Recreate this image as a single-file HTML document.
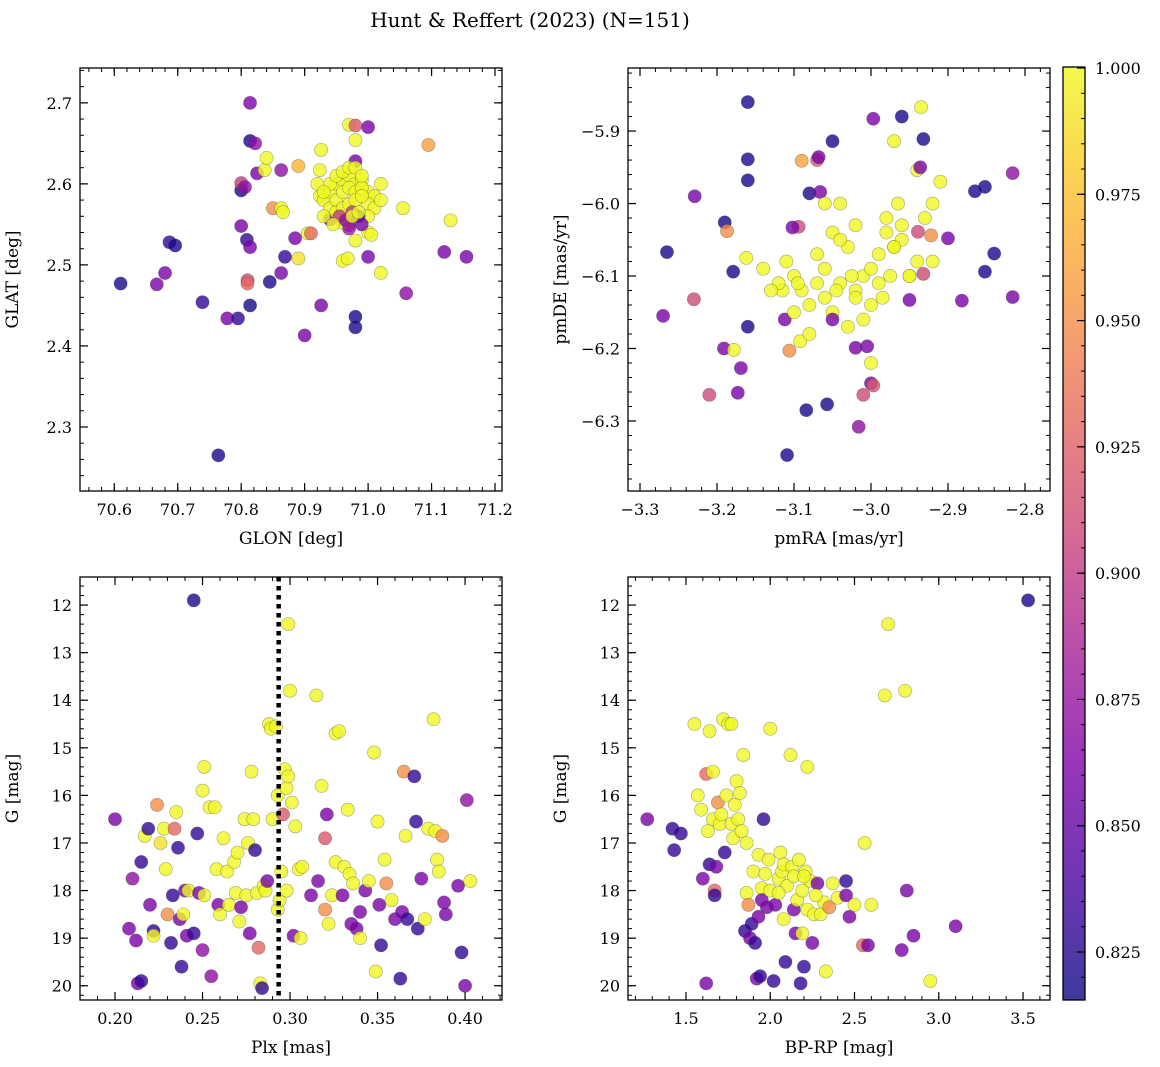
<!DOCTYPE html>
<html><head><meta charset="utf-8">
<style>
html,body{margin:0;padding:0;background:#fff;}
svg{display:block;font-family:"DejaVu Serif","Liberation Serif",serif;}
</style></head>
<body>
<svg id="fig" width="1160" height="1067" viewBox="0 0 1160 1067" xmlns="http://www.w3.org/2000/svg">
<text x="530" y="27" text-anchor="middle" font-size="20">Hunt &amp; Reffert (2023) (N=151)</text>
</svg>
<script>
// ---- Panel 1: GLON / GLAT ----
const p1_glon = [70.61,70.667,70.68,70.687,70.696,70.739,70.764,70.778,70.795,70.814,70.814,70.822,70.80,70.80,70.806,70.825,70.80,70.809,70.814,70.81,70.81,70.814,70.845,70.85,70.837,70.84,70.863,70.863,70.866,70.863,70.869,70.89,70.885,70.89,70.905,70.91,70.90,70.924,70.926,70.924,70.926,70.97,70.98,70.98,70.98,71.0,71.095,71.13,71.12,71.155,71.06,71.055,71.02,71.0,71.005,71.0,70.98,70.98,70.98,70.96,70.968,70.97,70.96,70.94,
70.93,70.94,70.95,70.96,70.97,70.98,70.99,71.0,71.01,70.94,70.95,70.96,70.97,70.98,70.99,71.0,71.01,70.93,70.95,70.96,70.97,70.98,70.99,71.0,70.94,70.95,70.96,70.97,70.98,70.99,70.955,70.965,70.975,70.985,70.945,71.02,71.02,70.92,70.93,70.97,70.99,70.975,70.985];
const p1_glat = [2.477,2.476,2.49,2.528,2.524,2.454,2.265,2.434,2.434,2.70,2.653,2.65,2.592,2.601,2.596,2.613,2.548,2.531,2.522,2.481,2.477,2.45,2.479,2.57,2.617,2.632,2.617,2.570,2.565,2.49,2.51,2.508,2.533,2.622,2.539,2.539,2.413,2.617,2.642,2.585,2.45,2.673,2.672,2.654,2.628,2.67,2.648,2.555,2.516,2.51,2.465,2.57,2.49,2.54,2.537,2.51,2.436,2.423,2.53,2.505,2.508,2.549,2.552,2.556,
2.58,2.59,2.6,2.605,2.61,2.6,2.605,2.59,2.585,2.57,2.58,2.59,2.595,2.59,2.595,2.575,2.57,2.56,2.565,2.57,2.575,2.58,2.585,2.56,2.6,2.61,2.615,2.62,2.62,2.61,2.56,2.555,2.565,2.56,2.55,2.6,2.58,2.6,2.59,2.545,2.55,2.56,2.565];
const p1_prob = [0.82,0.86,0.86,0.83,0.82,0.83,0.82,0.86,0.83,0.86,0.82,0.87,0.82,0.9,0.87,0.86,0.86,0.83,0.86,0.91,0.93,0.82,0.82,0.95,1,1,0.87,1,1,0.86,0.83,0.99,0.86,0.97,1,0.93,0.86,1,1,1,0.86,1,0.92,1,0.86,0.86,0.96,1,0.86,0.86,0.87,1,1,1,1,0.86,0.82,0.82,1,1,1,0.86,1,0.86,
1,1,1,1,1,1,1,1,1,1,1,1,1,1,1,1,1,1,1,1,1,1,1,1,1,1,1,1,1,1,0.9,0.87,0.9,0.83,1,1,1,1,1,0.88,0.86,1,1];

// ---- Panel 2: pmRA / pmDE ----
const p2_pmra = [-3.16,-3.16,-3.16,-3.19,-3.179,-3.16,-3.169,-3.173,-3.191,-3.178,-3.21,-3.23,-3.265,-3.27,-3.229,-3.187,-3.162,-3.09,-3.07,-3.068,-3.08,-3.066,-3.05,-2.997,-2.96,-2.935,-2.932,-2.97,-2.94,-2.936,-2.816,-2.865,-2.852,-2.84,-2.852,-2.816,-2.882,-2.90,-2.922,-2.939,-2.932,-2.95,-3.0,-3.016,-3.01,-3.02,-3.005,-2.997,-3.057,-3.084,-3.109,-3.106,-3.092,-3.112,-3.094,-3.102,-3.115,
-3.12,-3.11,-3.1,-3.09,-3.08,-3.07,-3.06,-3.05,-3.04,-3.03,-3.02,-3.01,-3.0,-2.99,-2.98,-2.97,-2.96,-2.95,-2.94,-2.93,-2.92,-2.91,-3.1,-3.08,-3.06,-3.04,-3.02,-3.0,-2.98,-2.96,-2.95,-3.13,-3.05,-3.03,-3.01,-2.99,-2.97,-3.07,-3.045,-3.025,-2.985,-3.095,-3.06,-3.04,-3.0,-2.975,-2.965,-3.14,-2.92,-3.05,-3.02];
const p2_pmde = [-5.86,-5.939,-5.968,-6.026,-6.094,-6.17,-6.227,-6.261,-6.2,-6.202,-6.264,-6.132,-6.067,-6.155,-5.99,-6.038,-6.075,-5.941,-5.94,-5.936,-5.986,-5.984,-5.914,-5.883,-5.88,-5.867,-5.911,-5.914,-5.954,-5.95,-5.958,-5.983,-5.977,-6.069,-6.094,-6.129,-6.134,-6.048,-6.044,-6.039,-6.097,-6.133,-6.248,-6.308,-6.264,-6.199,-6.197,-6.251,-6.277,-6.285,-6.347,-6.203,-6.19,-6.16,-6.032,-6.033,-6.12,
-6.11,-6.08,-6.1,-6.12,-6.14,-6.07,-6.13,-6.15,-6.11,-6.06,-6.12,-6.1,-6.09,-6.07,-6.04,-6.06,-6.03,-6.1,-6.08,-6.02,-6.0,-5.97,-6.15,-6.18,-6.09,-6.0,-6.03,-6.14,-6.02,-6.05,-6.1,-6.12,-6.04,-6.17,-6.16,-6.11,-6.06,-6.11,-6.12,-6.1,-6.13,-6.11,-6.0,-6.05,-6.22,-6.1,-6.0,-6.09,-6.08,-6.16,-6.13];
const p2_prob = [0.82,0.82,0.82,0.82,0.82,0.82,0.86,0.86,0.86,1,0.91,0.91,0.82,0.86,0.86,0.95,1,0.96,0.92,0.86,0.82,0.86,0.82,0.86,0.82,1,0.82,1,1,0.86,0.87,0.82,0.82,0.82,0.82,0.86,0.86,0.86,0.95,0.91,0.91,0.86,0.86,0.87,0.91,0.86,0.86,0.92,0.82,0.82,0.82,0.95,1,0.86,0.91,0.86,1,
1,1,1,1,1,1,1,1,1,1,1,1,1,1,1,1,1,1,1,1,1,1,1,1,1,1,1,1,1,1,1,1,1,1,1,1,1,1,1,1,1,1,1,1,1,1,1,1,1,0.86,1];

// ---- Panel 3: Plx / G ----
const p3_plx = [0.200,0.245,0.210,0.212,0.208,0.213,0.215,0.215,0.217,0.219,0.220,0.222,0.222,0.224,0.226,0.228,0.229,0.230,0.232,0.233,0.234,0.235,0.236,0.237,0.238,0.239,0.240,0.241,0.242,0.245,0.247,0.248,0.250,0.251,0.250,0.251,0.254,0.255,0.257,0.258,0.259,0.260,0.262,0.264,0.265,0.268,0.270,0.269,0.272,0.271,0.274,0.275,0.276,0.277,0.278,0.279,0.280,0.281,0.282,0.283,0.284,0.285,0.286,0.287,0.288,0.289,0.290,0.292,0.293,0.293,0.294,0.295,0.296,0.297,0.298,0.298,0.299,0.299,0.300,0.301,0.302,0.303,0.305,0.306,0.307,0.312,0.315,0.316,0.318,0.320,0.320,0.321,0.322,0.324,0.326,0.328,0.326,0.330,0.331,0.333,0.334,0.336,0.335,0.338,0.340,0.340,0.343,0.345,0.348,0.349,0.350,0.351,0.352,0.354,0.355,0.358,0.360,0.363,0.364,0.365,0.366,0.367,0.371,0.372,0.373,0.375,0.377,0.379,0.382,0.383,0.384,0.385,0.387,0.388,0.389,0.396,0.398,0.400,0.401,0.403];
const p3_g = [16.5,11.9,17.75,19.05,18.8,19.95,19.9,17.4,16.85,16.7,18.3,18.85,18.95,16.2,17.0,16.7,17.55,18.5,19.1,18.1,16.7,16.35,17.1,18.6,19.6,18.5,18.0,18.95,18.0,18.9,16.8,18.05,15.9,15.4,19.25,18.1,16.25,19.8,16.25,17.55,18.3,18.5,16.9,17.6,18.3,17.4,17.2,18.05,18.35,18.65,16.5,18.1,17.0,18.9,15.5,16.5,17.15,18.05,19.2,19.95,20.05,17.9,18.0,17.8,14.5,14.6,16.5,14.55,16.0,18.4,18.2,17.6,16.4,15.45,15.85,18.0,15.6,12.4,13.8,16.15,18.95,16.65,17.55,19.0,17.5,18.1,13.9,17.8,15.8,18.4,16.9,16.4,18.7,18.1,14.7,14.65,17.4,18.1,17.5,16.3,17.65,17.85,18.7,18.8,19.0,18.45,18.0,17.8,15.1,19.7,16.55,18.3,19.15,17.35,17.85,18.2,18.6,19.85,18.45,15.5,16.85,18.6,15.6,16.55,18.8,17.75,18.6,16.7,14.4,16.75,17.35,17.6,16.85,18.25,18.5,17.9,19.3,20.0,16.1,17.8];
const p3_prob = [0.86,0.82,0.87,0.86,0.86,0.86,0.83,0.83,1,0.83,0.86,0.83,1,0.95,0.99,1,1,0.95,0.83,0.83,0.93,1,0.83,0.86,0.83,1,0.86,0.86,1,0.83,0.83,0.86,1,1,0.87,1,1,0.87,1,1,0.86,1,1,1,1,1,1,1,0.86,1,1,1,1,0.86,1,1,0.83,1,0.93,1,0.83,1,1,0.86,1,1,1,1,1,1,1,1,0.92,1,1,1,1,1,1,1,0.86,1,1,1,1,0.86,1,0.86,1,0.95,0.92,0.86,1,1,1,1,1,0.86,1,1,1,1,0.86,0.86,1,0.86,0.86,1,1,1,1,0.86,0.83,1,0.95,1,0.86,0.83,0.86,0.95,1,0.83,0.83,0.83,0.83,0.86,1,1,1,1,1,1,0.95,0.86,0.86,0.86,0.83,0.86,0.87,1];

// ---- Panel 4: BP-RP / G ----
const p4_bprp = [3.53,2.70,2.80,2.68,1.27,1.42,1.43,1.47,1.55,1.57,1.59,1.60,1.62,1.62,1.63,1.64,1.64,1.66,1.66,1.67,1.67,1.68,1.69,1.70,1.71,1.72,1.73,1.74,1.75,1.77,1.77,1.78,1.79,1.80,1.81,1.82,1.83,1.84,1.85,1.86,1.86,1.87,1.88,1.89,1.90,1.91,1.92,1.93,1.93,1.94,1.95,1.95,1.96,1.97,1.98,1.99,2.0,2.0,2.02,2.03,2.05,2.06,2.07,2.08,2.08,2.09,2.10,2.12,2.13,2.14,2.14,2.15,2.16,2.17,2.18,2.19,2.19,2.20,2.21,2.22,2.22,2.24,2.25,2.26,2.28,2.30,2.32,2.33,2.35,2.37,2.40,2.45,2.45,2.47,2.50,2.55,2.56,2.58,2.60,2.78,2.85,2.81,2.95,3.10,2.20,2.27,2.05];
const p4_g = [11.9,12.4,13.8,13.9,16.5,16.7,17.15,16.8,14.5,16.0,16.3,17.75,15.55,19.95,16.75,17.45,14.65,15.5,16.5,18.0,18.1,17.5,16.15,16.6,16.4,14.4,17.2,16.0,14.5,14.5,16.6,16.9,16.2,15.7,16.5,15.95,16.75,15.15,18.85,18.05,17.0,18.3,19.0,18.7,17.6,19.1,19.85,18.55,17.25,19.8,17.95,18.2,16.5,17.65,18.35,17.35,18.0,14.6,19.9,18.3,17.75,17.2,17.6,17.45,18.6,19.5,17.9,15.15,17.5,17.7,18.4,18.9,18.2,17.35,19.95,18.0,18.9,19.6,17.6,15.4,18.4,17.8,19.1,18.5,17.85,18.5,18.25,19.7,18.35,17.85,18.15,17.8,18.1,18.55,18.3,19.15,17.0,19.15,18.3,19.25,18.95,18.0,19.9,18.75,17.7,18.1,18.05];
const p4_prob = [0.82,1,1,1,0.86,0.83,0.83,0.83,1,1,1,0.86,0.93,0.86,1,0.83,1,1,1,0.93,0.83,0.86,0.95,1,1,1,0.83,1,1,1,1,1,1,1,1,1,1,1,0.83,1,1,0.95,0.86,0.83,1,0.83,0.86,0.86,1,0.83,1,0.86,0.83,1,0.86,1,1,1,0.83,0.86,1,1,1,1,1,0.83,1,1,1,1,0.86,0.86,1,1,0.83,1,1,0.83,1,1,1,1,0.86,1,0.86,1,1,1,0.95,1,1,0.83,0.86,0.86,1,0.93,1,0.86,1,0.86,0.86,0.86,1,0.86,1,1,1];

// colorbar ticks
const cbTicks = [0.825,0.85,0.875,0.9,0.925,0.95,0.975,1.0];

const NS="http://www.w3.org/2000/svg";
const svg=document.getElementById('fig');
const VMIN=0.8155, VMAX=1.0002;
const stops=[[0,[13,8,135]],[0.13,[75,3,161]],[0.25,[125,3,168]],[0.38,[168,34,150]],[0.5,[203,70,121]],[0.63,[229,107,93]],[0.75,[248,149,64]],[0.88,[253,196,39]],[1,[240,249,33]]];
function cmap(v){let t=(v-VMIN)/(VMAX-VMIN);t=Math.max(0,Math.min(1,t));
 for(let i=1;i<stops.length;i++){if(t<=stops[i][0]){const a=stops[i-1],b=stops[i];const f=(t-a[0])/(b[0]-a[0]);
 const c=a[1].map((x,k)=>Math.round(x+(b[1][k]-x)*f));return `rgb(${c[0]},${c[1]},${c[2]})`;}}return 'rgb(240,249,33)';}
function el(tag,attrs,parent){const e=document.createElementNS(NS,tag);for(const k in attrs)e.setAttribute(k,attrs[k]);(parent||svg).appendChild(e);return e;}
function fmt(v,d){const s=Math.abs(v).toFixed(d);return (v<0?'\u2212':'')+s;}

function panel(o){
 const g=el('g',{});
 
 
 const X=v=>o.x0+(v-o.xmin)/(o.xmax-o.xmin)*(o.x1-o.x0);
 const Y=v=>o.inv? o.y0+(v-o.ymin)/(o.ymax-o.ymin)*(o.y1-o.y0) : o.y1-(v-o.ymin)/(o.ymax-o.ymin)*(o.y1-o.y0);
 // points
 const pg=el('g',{},g);
 
 
 for(let i=0;i<o.xs.length;i++){
  const c=el('circle',{cx:X(o.xs[i]),cy:Y(o.ys[i]),r:6.6,fill:cmap(o.ps[i]),'fill-opacity':0.8,stroke:'rgba(60,60,60,0.45)','stroke-width':0.6},pg);
  
  
 }
 if(o.vline!==undefined){
  const l=el('line',{x1:X(o.vline),x2:X(o.vline),y1:o.y0,y2:o.y1,stroke:'#000','stroke-width':4.5,'stroke-dasharray':'4.5,4.5'},g);
  
  
 }
 const fr=el('rect',{x:o.x0,y:o.y0,width:o.x1-o.x0,height:o.y1-o.y0,fill:'none',stroke:'#000','stroke-width':1.3},g);
 
 
 // minor ticks
 for(let v=Math.ceil(o.xmin/o.xmn)*o.xmn; v<=o.xmax; v+=o.xmn){const px=X(v);
  el('line',{x1:px,x2:px,y1:o.y1,y2:o.y1-4,stroke:'#000','stroke-width':1},g);
  el('line',{x1:px,x2:px,y1:o.y0,y2:o.y0+4,stroke:'#000','stroke-width':1},g);}
 for(let v=Math.ceil(o.ymin/o.ymn)*o.ymn; v<=o.ymax; v+=o.ymn){const py=Y(v);
  el('line',{x1:o.x0,x2:o.x0+4,y1:py,y2:py,stroke:'#000','stroke-width':1},g);
  el('line',{x1:o.x1,x2:o.x1-4,y1:py,y2:py,stroke:'#000','stroke-width':1},g);}
 // major
 o.xt.forEach(v=>{const px=X(v);
  el('line',{x1:px,x2:px,y1:o.y1,y2:o.y1-8,stroke:'#000','stroke-width':1.2},g);
  el('line',{x1:px,x2:px,y1:o.y0,y2:o.y0+8,stroke:'#000','stroke-width':1.2},g);
  const t=el('text',{x:px,y:o.y1+24,'text-anchor':'middle','font-size':16},g);t.textContent=fmt(v,o.xd);
  
  });
 o.yt.forEach(v=>{const py=Y(v);
  el('line',{x1:o.x0,x2:o.x0+8,y1:py,y2:py,stroke:'#000','stroke-width':1.2},g);
  el('line',{x1:o.x1,x2:o.x1-8,y1:py,y2:py,stroke:'#000','stroke-width':1.2},g);
  const t=el('text',{x:o.x0-8,y:py+6,'text-anchor':'end','font-size':16},g);t.textContent=fmt(v,o.yd);
  
  });
 const xl=el('text',{x:(o.x0+o.x1)/2,y:o.y1+53,'text-anchor':'middle','font-size':17},g);xl.textContent=o.xlab;
 
 
 const yx=o.x0-62, yy=(o.y0+o.y1)/2;
 const yl=el('text',{x:yx,y:yy,'text-anchor':'middle','font-size':17,transform:`rotate(-90 ${yx} ${yy})`},g);yl.textContent=o.ylab;
 
 
}

panel({name:'glon-glat-panel',x0:80,x1:502,y0:68,y1:491,xmin:70.546,xmax:71.211,ymin:2.221,ymax:2.743,
 xs:p1_glon,ys:p1_glat,ps:p1_prob,xt:[70.6,70.7,70.8,70.9,71.0,71.1,71.2],yt:[2.3,2.4,2.5,2.6,2.7],xd:1,yd:1,xmn:0.02,ymn:0.02,xlab:'GLON [deg]',ylab:'GLAT [deg]'});
panel({name:'pm-panel',x0:628,x1:1050,y0:68,y1:491,xmin:-3.3156,xmax:-2.7675,ymin:-6.3966,ymax:-5.813,
 xs:p2_pmra,ys:p2_pmde,ps:p2_prob,xt:[-3.3,-3.2,-3.1,-3.0,-2.9,-2.8],yt:[-6.3,-6.2,-6.1,-6.0,-5.9],xd:1,yd:1,xmn:0.02,ymn:0.02,xlab:'pmRA [mas/yr]',ylab:'pmDE [mas/yr]'});
panel({name:'plx-g-panel',x0:80,x1:502,y0:577,y1:1000,xmin:0.18,xmax:0.4211,ymin:11.41,ymax:20.3,inv:true,vline:0.2935,
 xs:p3_plx,ys:p3_g,ps:p3_prob,xt:[0.20,0.25,0.30,0.35,0.40],yt:[12,13,14,15,16,17,18,19,20],xd:2,yd:0,xmn:0.01,ymn:0.2,xlab:'Plx [mas]',ylab:'G [mag]'});
panel({name:'cmd-panel',x0:628,x1:1050,y0:577,y1:1000,xmin:1.156,xmax:3.66,ymin:11.41,ymax:20.3,inv:true,
 xs:p4_bprp,ys:p4_g,ps:p4_prob,xt:[1.5,2.0,2.5,3.0,3.5],yt:[12,13,14,15,16,17,18,19,20],xd:1,yd:0,xmn:0.1,ymn:0.2,xlab:'BP-RP [mag]',ylab:'G [mag]'});

// colorbar
(function(){
 const cx0=1063,cx1=1085,cy0=67,cy1=1000;
 const g=el('g',{});
 
 
 const defs=el('defs',{},g);
 const lg=el('linearGradient',{id:'cbg',x1:0,y1:1,x2:0,y2:0},defs);
 for(let i=0;i<=20;i++){const v=VMIN+(VMAX-VMIN)*i/20;el('stop',{offset:(i/20),'stop-color':cmap(v),'stop-opacity':0.8},lg);}
 el('rect',{x:cx0,y:cy0,width:cx1-cx0,height:cy1-cy0,fill:'url(#cbg)',stroke:'#000','stroke-width':1.3},g);
 const Y=v=>cy1-(v-VMIN)/(VMAX-VMIN)*(cy1-cy0);
 for(let v=0.82;v<=1.0001;v+=0.005){el('line',{x1:cx1,x2:cx1-4,y1:Y(v),y2:Y(v),stroke:'#000','stroke-width':1},g);}
 cbTicks.forEach(v=>{const py=Y(v);
  el('line',{x1:cx1,x2:cx1-8,y1:py,y2:py,stroke:'#000','stroke-width':1.2},g);
  const t=el('text',{x:cx1+10,y:py+6,'font-size':16},g);t.textContent=v.toFixed(3);
  
  });
})();
</script>
</body></html>
